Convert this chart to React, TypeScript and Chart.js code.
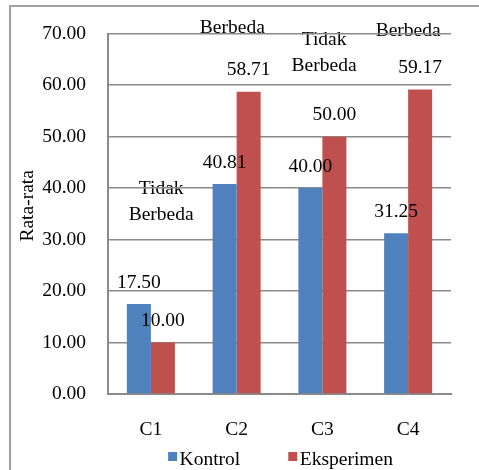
import React, { useEffect, useRef } from "react";
import { Chart, registerables } from "chart.js";

Chart.register(...registerables);

const categories = ["C1", "C2", "C3", "C4"];
const seriesNames = ["Kontrol", "Eksperimen"];
const kontrol = [17.5, 40.81, 40.0, 31.25];
const eksperimen = [10.0, 58.71, 50.0, 59.17];
const yMin = 0;
const yMax = 70;
const yStep = 10;
const axisTitle = "Rata-rata";
const notes = [["Tidak", "Berbeda"], ["Berbeda"], ["Tidak", "Berbeda"], ["Berbeda"]];
const noteAtCategory = [0.12, 0.95, 2.02, 3.0];
const noteAtValue = [37.4, 71.2, 66.2, 70.6];

const FONT = '"Liberation Serif", "Times New Roman", serif';
const FS = 19.5;
const BLUE = "#4F81BD";
const RED = "#C0504D";
const GRID = "#8a8a8a";

const decor = {
  id: "decor",
  beforeDraw(chart: any) {
    const ctx = chart.ctx;
    const xs = chart.scales.x;
    const ys = chart.scales.y;
    ctx.save();
    ctx.strokeStyle = "#a0a0a0";
    ctx.lineWidth = 2;
    ctx.beginPath();
    ctx.moveTo(10, 480);
    ctx.lineTo(10, 6);
    ctx.lineTo(490, 6);
    ctx.stroke();

    ctx.font = `${FS}px ${FONT}`;
    ctx.fillStyle = "#000";
    ctx.textAlign = "center";
    ctx.textBaseline = "middle";
    notes.forEach((lines, i) => {
      const cx = xs.getPixelForValue(noteAtCategory[i]);
      const cy = ys.getPixelForValue(noteAtValue[i]);
      const lh = 26;
      lines.forEach((t, j) => {
        ctx.fillText(t, cx, cy + (j - (lines.length - 1) / 2) * lh);
      });
    });

    ctx.translate(28, (ys.top + ys.bottom) / 2 - 8);
    ctx.rotate(-Math.PI / 2);
    ctx.fillText(axisTitle, 0, 0);
    ctx.restore();
  },
  afterDatasetsDraw(chart: any) {
    const ctx = chart.ctx;
    ctx.save();
    ctx.font = `${FS}px ${FONT}`;
    ctx.fillStyle = "#000";
    ctx.textAlign = "center";
    ctx.textBaseline = "middle";
    chart.data.datasets.forEach((ds: any, di: number) => {
      const meta = chart.getDatasetMeta(di);
      meta.data.forEach((bar: any, i: number) => {
        ctx.fillText(Number(ds.data[i]).toFixed(2), bar.x, bar.y - 21.5);
      });
    });

    // legend
    const area = chart.chartArea;
    const box = 9;
    const boxGap = 2.5;
    const itemGap = 48;
    const widths = chart.data.datasets.map((ds: any) => ctx.measureText(ds.label).width);
    const total = widths.reduce((a: number, w: number) => a + box + boxGap + w, 0) + itemGap * (widths.length - 1);
    let x = (area.left + area.right) / 2 - total / 2 + 1;
    const baseY = 465;
    ctx.textAlign = "left";
    ctx.textBaseline = "alphabetic";
    chart.data.datasets.forEach((ds: any, di: number) => {
      ctx.fillStyle = ds.backgroundColor;
      ctx.fillRect(x, baseY - 13, box, box);
      ctx.fillStyle = "#000";
      ctx.fillText(ds.label, x + box + boxGap, baseY);
      x += box + boxGap + widths[di] + itemGap;
    });
    ctx.restore();
  },
};

export default function App() {
  const ref = useRef<HTMLCanvasElement | null>(null);

  useEffect(() => {
    if (!ref.current) return;
    const chart = new Chart(ref.current, {
      type: "bar",
      data: {
        labels: categories,
        datasets: [
          { label: seriesNames[0], data: kontrol, backgroundColor: BLUE, borderWidth: 0 },
          { label: seriesNames[1], data: eksperimen, backgroundColor: RED, borderWidth: 0 },
        ],
      },
      options: {
        responsive: false,
        animation: false,
        devicePixelRatio: 1,
        layout: { padding: { left: 0, top: 30, right: 28, bottom: 0 } },
        datasets: { bar: { categoryPercentage: 0.56, barPercentage: 1 } },
        plugins: {
          legend: { display: false },
          tooltip: { enabled: false },
          title: { display: false },
        },
        scales: {
          x: {
            offset: true,
            grid: { display: false, drawTicks: false },
            border: { display: true, color: GRID, width: 2 },
            ticks: { color: "#000", padding: 24, font: { family: FONT, size: FS } },
            afterFit: (s: any) => {
              s.height = 76;
            },
          },
          y: {
            min: yMin,
            max: yMax,
            grid: { color: GRID, lineWidth: 1.5, drawTicks: false },
            border: { display: true, color: GRID, width: 2 },
            ticks: {
              stepSize: yStep,
              color: "#000",
              padding: 22,
              font: { family: FONT, size: FS },
              callback: (v: any) => Number(v).toFixed(2),
            },
            afterFit: (s: any) => {
              s.width = 108;
            },
          },
        },
      },
      plugins: [decor],
    } as any);
    return () => chart.destroy();
  }, []);

  return (
    <div style={{ position: "absolute", left: 0, top: 0, width: 479, height: 470, overflow: "hidden", background: "#fff" }}>
      <canvas ref={ref} width={479} height={470} style={{ display: "block" }} />
    </div>
  );
}
